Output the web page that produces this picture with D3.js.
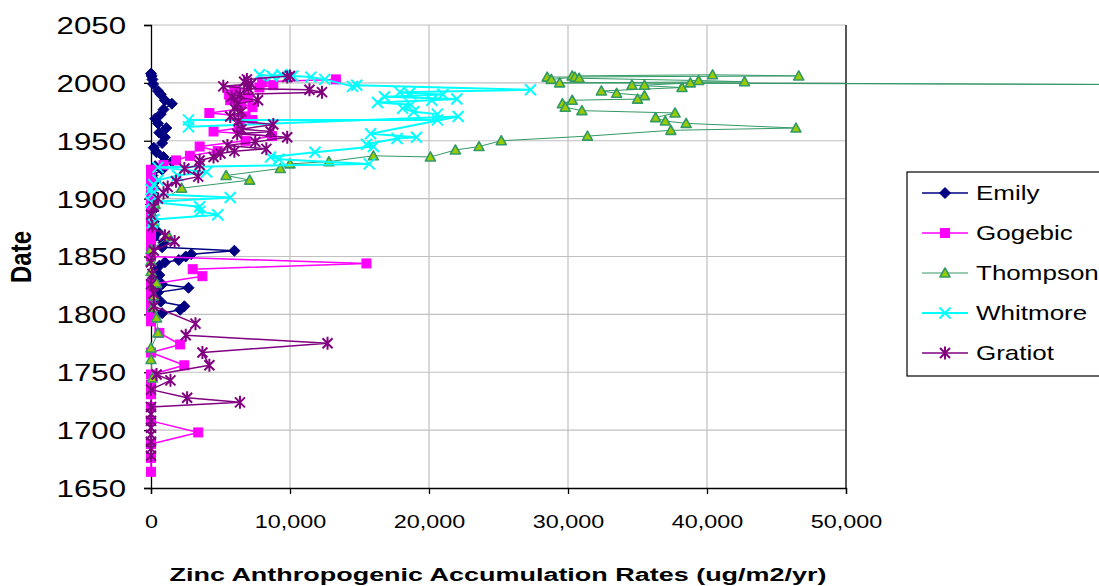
<!DOCTYPE html>
<html>
<head>
<meta charset="utf-8">
<script src="https://cdn.jsdelivr.net/npm/d3@7"></script>
<style>
  html, body { margin: 0; padding: 0; background: #fff; }
  svg { display: block; font-family: "Liberation Sans", Arial, sans-serif; }
</style>
</head>
<body>
<svg id="chart" width="1099" height="586"></svg>
<script>
// Axis ticks
const xTicks = [0, 10000, 20000, 30000, 40000, 50000];
const yTicks = [1650, 1700, 1750, 1800, 1850, 1900, 1950, 2000, 2050];

// Series: [date, zinc accumulation rate]
const emily = [
  [2008, 0], [2006, 50], [2003, 100], [1999, 150], [1993, 500], [1990, 700],
  [1985, 1000], [1982, 1500], [1977, 900], [1973, 700], [1969, 300], [1965, 500],
  [1961, 1100], [1957, 600], [1953, 1000], [1948, 800], [1944, 200], [1940, 400],
  [1936, 900], [1932, 1500], [1928, 300], [1925, 800], [1920, 100], [1915, 300],
  [1910, 150], [1905, 50], [1900, 100], [1895, 0], [1890, 150], [1885, 50],
  [1880, 200], [1875, 100], [1871, 500], [1866, 200], [1862, 900], [1858, 800],
  [1855, 6000], [1852, 2900], [1850, 2500], [1847, 2000], [1845, 1000], [1842, 600],
  [1838, 300], [1834, 600], [1830, 200], [1826, 800], [1823, 2700], [1819, 500],
  [1815, 300], [1811, 700], [1807, 2400], [1804, 2100], [1801, 800], [1798, 200]
];

const gogebic = [
  [2003, 13300], [2001, 8000], [1998, 8800], [1996, 7800], [1993, 6000], [1990, 5600],
  [1988, 7000], [1985, 5700], [1982, 6500], [1979, 7300], [1974, 4200], [1971, 6800],
  [1968, 7300], [1965, 6400], [1961, 6300], [1958, 4500], [1954, 8700], [1950, 6800],
  [1945, 3500], [1941, 4800], [1937, 2800], [1933, 1800], [1929, 900], [1925, 0],
  [1921, 0], [1917, 0], [1913, 0], [1909, 0], [1905, 0], [1900, 0], [1895, 0],
  [1890, 0], [1885, 0], [1880, 0], [1875, 0], [1870, 0], [1865, 0], [1860, 0],
  [1855, 0], [1850, 0], [1844, 15500], [1839, 3000], [1833, 3700], [1826, 0],
  [1820, 0], [1813, 0], [1806, 0], [1800, 0], [1794, 0], [1784, 600], [1774, 2100],
  [1767, 0], [1756, 2400], [1748, 0], [1739, 0], [1731, 0], [1720, 0], [1708, 0],
  [1698, 3400], [1688, 0], [1676, 0], [1664, 0]
];

const thompson = [
  [2006, 30300], [2007, 40400], [2006, 46600], [2005, 28500], [2003, 28800],
  [2005, 30500], [2004, 30800], [2002, 39400], [2001, 42700], [2000, 29400],
  [1998, 85000], [2000, 38800], [1998, 35500], [1998, 34600], [1996, 38200],
  [1993, 32400], [1991, 33500], [1989, 35500], [1986, 35000], [1985, 30300],
  [1982, 29600], [1979, 29800], [1976, 31000], [1974, 37700], [1970, 36300],
  [1967, 37000], [1965, 38500], [1961, 46400], [1959, 37400], [1954, 31400],
  [1950, 25200], [1945, 23600], [1942, 21900], [1936, 20100], [1937, 16000],
  [1932, 12800], [1930, 10000], [1926, 9300], [1920, 5400], [1916, 7100],
  [1909, 2200], [1895, 300], [1880, 200], [1867, 1300], [1856, 0], [1846, 0],
  [1837, 0], [1827, 400], [1816, 200], [1806, 100], [1797, 400], [1784, 500],
  [1771, 0], [1761, 0], [1745, 100]
];

const whitmore = [
  [2007, 7800], [2006, 8700], [2007, 9400], [2006, 10200], [2005, 11500],
  [2003, 12500], [1997, 14500], [1998, 14800], [1994, 27300], [1992, 17900],
  [1991, 18600], [1990, 21000], [1988, 16800], [1986, 22000], [1985, 20200],
  [1983, 16300], [1981, 18700], [1978, 18100], [1975, 18900], [1973, 20600],
  [1968, 20600], [1968, 2700], [1962, 2700], [1971, 22100], [1956, 15800],
  [1953, 19100], [1952, 17700], [1947, 15500], [1945, 16000], [1940, 11800],
  [1936, 8600], [1934, 9200], [1930, 15700], [1927, 500], [1923, 4000],
  [1920, 1900], [1916, 500], [1912, 200], [1908, 0], [1904, 100], [1901, 5700],
  [1897, 0], [1893, 3500], [1889, 3500], [1886, 4800], [1882, 200], [1879, 100]
];

const gratiot = [
  [2005, 9800], [2006, 10000], [2003, 6900], [2001, 6700], [1999, 7200], [1997, 5200],
  [1995, 7000], [1994, 11400], [1992, 12300], [1990, 6400], [1988, 5800], [1985, 7700],
  [1982, 6200], [1978, 6000], [1975, 6500], [1971, 5700], [1967, 6300], [1964, 8800],
  [1960, 6500], [1958, 8600], [1956, 6200], [1953, 9800], [1949, 7500], [1946, 5500],
  [1943, 8300], [1941, 6000], [1939, 5000], [1936, 4500], [1933, 3500], [1929, 3500],
  [1926, 2400], [1919, 3400], [1915, 1800], [1910, 1200], [1905, 900], [1900, 500],
  [1893, 200], [1886, 0], [1876, 100], [1868, 1000], [1863, 1700], [1855, 200],
  [1845, 0], [1835, 100], [1826, 0], [1818, 200], [1807, 200], [1792, 3200],
  [1782, 2500], [1775, 12700], [1767, 3700], [1756, 4200], [1748, 400], [1743, 1400],
  [1735, 0], [1728, 2600], [1724, 6400], [1720, 0], [1714, 0], [1708, 0], [1702, 0],
  [1696, 0], [1690, 0], [1684, 0], [1678, 0]
];

const seriesNames = ["Emily", "Gogebic", "Thompson", "Whitmore", "Gratiot"];

const series = [
  { name: seriesNames[0], data: emily,    line: "#000080", width: 1.5, marker: "diamond" },
  { name: seriesNames[1], data: gogebic,  line: "#ff00ff", width: 1.5, marker: "square" },
  { name: seriesNames[2], data: thompson, line: "#339966", width: 1,   marker: "triangle" },
  { name: seriesNames[3], data: whitmore, line: "#00ffff", width: 2,   marker: "x" },
  { name: seriesNames[4], data: gratiot,  line: "#800080", width: 1.5, marker: "star" }
];

const svg = d3.select("#chart");
const STRETCH = 1.3; // horizontal text stretch

const x = d3.scaleLinear().domain([0, 50000]).range([151, 846]);
const y = d3.scaleLinear().domain([1650, 2050]).range([488, 25]);

// Gridlines
svg.append("g").selectAll("line.v").data(xTicks.slice(1)).join("line")
  .attr("x1", d => x(d)).attr("x2", d => x(d))
  .attr("y1", y(2050)).attr("y2", y(1650))
  .attr("stroke", "#c0c0c0").attr("stroke-width", 1.2);
svg.append("g").selectAll("line.h").data(yTicks.slice(1)).join("line")
  .attr("x1", x(0)).attr("x2", x(50000))
  .attr("y1", d => y(d)).attr("y2", d => y(d))
  .attr("stroke", "#c0c0c0").attr("stroke-width", 1.2);

// Right edge of plot area
svg.append("line")
  .attr("x1", x(50000)).attr("x2", x(50000))
  .attr("y1", y(2050)).attr("y2", y(1650))
  .attr("stroke", "#000").attr("stroke-width", 1.2);

// Axes
const yAxis = svg.append("g").attr("transform", `translate(${x(0)},0)`)
  .call(d3.axisLeft(y).tickValues(yTicks).tickSize(7).tickFormat(d3.format("d")));
const xAxis = svg.append("g").attr("transform", `translate(0,${y(1650)})`)
  .call(d3.axisBottom(x).tickValues(xTicks).tickSize(6).tickFormat(d3.format(",")));

[yAxis, xAxis].forEach(a => {
  a.select(".domain").attr("stroke", "#000").attr("stroke-width", 1.3);
  a.selectAll(".tick line").attr("stroke", "#000").attr("stroke-width", 1.3);
  a.selectAll("text").attr("fill", "#000").attr("font-family", "Liberation Sans, Arial, sans-serif");
});
yAxis.selectAll(".tick text")
  .attr("font-size", 24)
  .attr("x", -25 / STRETCH)
  .attr("dy", "0.35em")
  .attr("transform", `scale(${STRETCH},1)`);
xAxis.selectAll(".tick text")
  .attr("font-size", 18)
  .attr("y", 34)
  .attr("dy", "0.35em")
  .attr("transform", `scale(${STRETCH},1)`);

// Axis titles
svg.append("text")
  .attr("x", 498).attr("y", 581)
  .attr("text-anchor", "middle")
  .attr("font-weight", "bold").attr("font-size", 18)
  .attr("textLength", 657).attr("lengthAdjust", "spacingAndGlyphs")
  .text("Zinc Anthropogenic Accumulation Rates (ug/m2/yr)");
svg.append("g").attr("transform", "translate(31,257) rotate(-90) scale(1,1.2)")
  .append("text")
  .attr("text-anchor", "middle")
  .attr("font-weight", "bold").attr("font-size", 24)
  .text("Date");

// Marker shapes
function drawMarker(g, type) {
  if (type === "diamond") {
    g.append("path").attr("d", "M0,-5.5L5.5,0L0,5.5L-5.5,0Z").attr("fill", "#000080").attr("stroke", "#000080");
  } else if (type === "square") {
    g.append("rect").attr("x", -4.5).attr("y", -4.5).attr("width", 9).attr("height", 9)
      .attr("fill", "#ff00ff").attr("stroke", "#ff00ff");
  } else if (type === "triangle") {
    g.append("path").attr("d", "M0,-5L5,4L-5,4Z").attr("fill", "#99cc00")
      .attr("stroke", "#339966").attr("stroke-width", 1.6).attr("stroke-linejoin", "round");
  } else if (type === "x") {
    g.append("path").attr("d", "M-5.5,-5.5L5.5,5.5M-5.5,5.5L5.5,-5.5")
      .attr("stroke", "#00ffff").attr("stroke-width", 2).attr("fill", "none");
  } else if (type === "star") {
    g.append("path").attr("d", "M-5,-5L5,5M-5,5L5,-5M0,-6.5L0,6.5")
      .attr("stroke", "#800080").attr("stroke-width", 2).attr("fill", "none");
  }
}

const line = d3.line().x(d => x(d[1])).y(d => y(d[0]));

series.forEach(s => {
  const g = svg.append("g");
  g.append("path").datum(s.data).attr("d", line)
    .attr("fill", "none").attr("stroke", s.line).attr("stroke-width", s.width)
    .attr("stroke-linejoin", "round");
  g.selectAll("g.m").data(s.data).join("g")
    .attr("transform", d => `translate(${x(d[1])},${y(d[0])})`)
    .each(function () { drawMarker(d3.select(this), s.marker); });
});

// Legend
const legend = svg.append("g");
legend.append("rect").attr("x", 907).attr("y", 172).attr("width", 220).attr("height", 204)
  .attr("fill", "#fff").attr("stroke", "#000").attr("stroke-width", 1.2);
series.forEach((s, i) => {
  const ly = 193 + i * 40;
  const item = legend.append("g").attr("transform", `translate(0,${ly})`);
  item.append("line").attr("x1", 922).attr("x2", 968).attr("y1", 0).attr("y2", 0)
    .attr("stroke", s.line).attr("stroke-width", s.width);
  drawMarker(item.append("g").attr("transform", "translate(945,0)"), s.marker);
  item.append("g").attr("transform", `translate(976,0) scale(${STRETCH},1)`)
    .append("text").attr("dy", "0.35em").attr("font-size", 20).attr("fill", "#000")
    .text(s.name);
});
</script>
</body>
</html>
